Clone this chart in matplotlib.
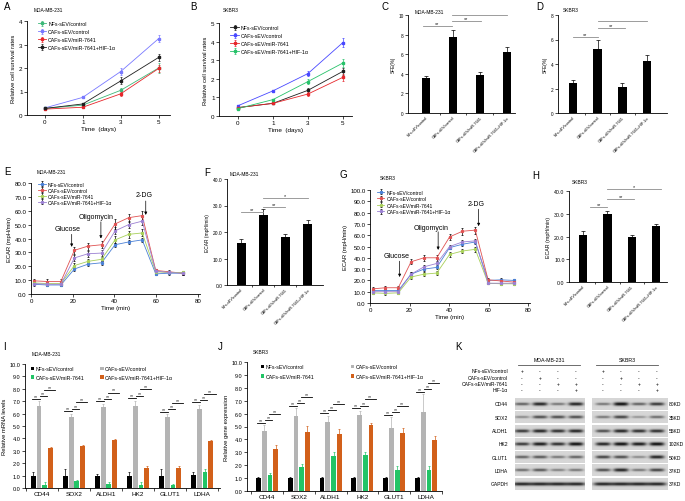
import numpy as np
import matplotlib.pyplot as plt

plt.rcParams['font.family'] = ['Liberation Sans', 'DejaVu Sans']
plt.rcParams['axes.linewidth'] = 0.6

# ---------------------- data ----------------------
groups = ['NFs-sEV/control', 'CAFs-sEV/control', 'CAFs-sEV/miR-7641', 'CAFs-sEV/miR-7641+HIF-1α']
days = ['0', '1', '3', '5']

# A: MDA-MB-231 survival (rows follow groups)
a_mean = np.array([[0.28, 0.42, 1.05, 2.00],
                   [0.30, 0.75, 1.85, 3.25],
                   [0.25, 0.33, 0.90, 1.98],
                   [0.28, 0.47, 1.45, 2.45]])
a_err = np.array([[0.03, 0.04, 0.10, 0.20],
                  [0.03, 0.04, 0.15, 0.15],
                  [0.03, 0.04, 0.08, 0.15],
                  [0.03, 0.04, 0.15, 0.15]])
# B: SKBR3 survival
b_mean = np.array([[0.45, 0.68, 1.38, 2.40],
                   [0.55, 1.35, 2.28, 3.95],
                   [0.45, 0.68, 1.18, 2.08],
                   [0.40, 0.88, 1.85, 2.85]])
b_err = np.array([[0.04, 0.05, 0.12, 0.20],
                  [0.04, 0.05, 0.15, 0.25],
                  [0.04, 0.05, 0.10, 0.20],
                  [0.04, 0.05, 0.15, 0.20]])

# C, D: sphere formation efficiency
c_mean = [3.6, 7.8, 3.9, 6.2]
c_err = [0.2, 0.7, 0.3, 0.5]
d_mean = [2.45, 5.25, 2.15, 4.25]
d_err = [0.25, 0.7, 0.3, 0.5]

# E, G: ECAR time course
ecar_t = [1.3, 7.8, 14.3, 20.8, 27.3, 33.8, 40.3, 46.8, 53.3, 59.8, 66.3, 72.8]
e_mean = np.array([[7.0, 6.5, 6.5, 18.0, 21.5, 22.5, 35.5, 37.5, 39.0, 14.5, 15.0, 15.0],
                   [9.5, 9.0, 9.0, 31.5, 34.5, 35.5, 50.5, 55.0, 56.5, 17.0, 16.0, 15.0],
                   [8.0, 7.5, 7.5, 20.5, 23.5, 25.0, 39.0, 43.0, 44.0, 16.0, 15.5, 15.5],
                   [7.5, 7.0, 7.0, 26.0, 29.0, 29.5, 45.5, 50.0, 52.5, 16.5, 15.5, 15.0]])
e_err = np.array([[1.0, 1.0, 1.0, 1.5, 1.5, 1.5, 1.5, 1.5, 1.5, 1.0, 1.0, 1.0],
                  [1.5, 1.5, 1.5, 2.5, 2.5, 2.5, 3.5, 3.0, 3.5, 1.0, 1.0, 1.0],
                  [1.0, 1.0, 1.0, 1.5, 1.5, 1.5, 2.5, 2.5, 2.5, 1.0, 1.0, 1.0],
                  [1.0, 1.0, 1.0, 2.0, 2.0, 2.0, 2.5, 2.5, 3.0, 1.0, 1.0, 1.0]])
g_mean = np.array([[11.0, 11.0, 11.0, 25.5, 30.0, 31.5, 49.0, 52.0, 54.0, 20.0, 20.5, 20.0],
                   [12.5, 13.5, 13.5, 36.5, 40.0, 40.0, 58.5, 63.5, 64.5, 20.5, 19.5, 18.5],
                   [9.0, 8.5, 9.0, 23.0, 25.5, 26.5, 43.0, 46.0, 47.5, 17.5, 17.0, 17.0],
                   [10.0, 10.0, 10.0, 25.5, 32.0, 35.0, 50.0, 54.0, 55.0, 17.5, 17.5, 17.5]])
g_err = np.array([[1.0, 1.0, 1.0, 1.5, 1.5, 1.5, 1.5, 1.5, 1.5, 1.5, 1.5, 1.5],
                  [1.5, 1.5, 1.5, 2.0, 2.5, 2.5, 3.0, 3.0, 3.0, 1.5, 1.5, 1.5],
                  [1.0, 1.0, 1.0, 1.5, 1.5, 1.5, 2.0, 2.0, 2.0, 1.0, 1.0, 1.0],
                  [1.0, 1.0, 1.0, 1.5, 1.5, 1.5, 1.5, 1.5, 1.5, 1.0, 1.0, 1.0]])

# F, H: ECAR bars
f_mean = [16.0, 26.3, 18.2, 23.0]
f_err = [1.2, 2.2, 1.0, 1.5]
h_mean = [20.5, 29.8, 20.0, 24.8]
h_err = [1.8, 1.5, 0.5, 0.8]

# I, J: qPCR (rows follow groups, columns follow genes)
genes = ['CD44', 'SOX2', 'ALDH1', 'HK2', 'GLUT1', 'LDHA']
i_mean = np.array([[1.0, 1.0, 1.0, 1.0, 1.0, 1.05],
                   [6.6, 5.7, 6.5, 6.6, 5.7, 6.4],
                   [0.25, 0.55, 0.3, 0.25, 0.25, 1.3],
                   [3.2, 3.4, 3.9, 1.6, 1.65, 3.8]])
i_err = np.array([[0.3, 0.5, 0.15, 0.3, 0.5, 0.25],
                  [0.4, 0.3, 0.3, 0.45, 0.25, 0.3],
                  [0.2, 0.1, 0.2, 0.2, 0.1, 0.2],
                  [0.1, 0.05, 0.05, 0.15, 0.1, 0.05]])
j_mean = np.array([[1.0, 1.0, 1.0, 1.0, 1.0, 1.0],
                   [4.65, 5.8, 5.35, 5.9, 4.9, 6.1],
                   [1.25, 1.85, 2.75, 2.8, 1.6, 1.6],
                   [3.25, 4.55, 4.4, 5.1, 4.5, 3.95]])
j_err = np.array([[0.08, 0.08, 0.05, 0.08, 0.05, 0.08],
                  [0.45, 0.6, 0.5, 0.3, 0.8, 1.4],
                  [0.12, 0.25, 0.3, 0.2, 0.3, 0.35],
                  [0.3, 0.5, 0.4, 0.2, 0.4, 0.3]])

# K: western blot band intensities (lanes 1-4)
blot_proteins = ['CD44', 'SOX2', 'ALDH1', 'HK2', 'GLUT1', 'LDHA', 'GAPDH']
blot_kd = ['80KD', '35KD', '55KD', '102KD', '50KD', '37KD', '37KD']
k_treat = ['NFs-sEV/control', 'CAFs-sEV/control', 'CAFs-sEV/miR-7641', 'HIF-1α']
k_signs = [['+', '-', '-', '-'],
           ['-', '+', '-', '-'],
           ['-', '-', '+', '+'],
           ['-', '-', '-', '+']]
mda_bands = np.array([[0.60, 0.90, 0.50, 0.90],
                      [0.40, 0.70, 0.70, 0.70],
                      [0.80, 0.90, 0.85, 0.90],
                      [0.80, 0.95, 0.85, 1.00],
                      [0.60, 0.65, 0.50, 0.60],
                      [0.55, 0.65, 0.45, 0.50],
                      [0.90, 0.90, 0.90, 0.90]])
skbr_bands = np.array([[0.50, 1.00, 0.60, 0.80],
                       [0.50, 0.75, 0.35, 0.55],
                       [0.70, 0.90, 0.85, 0.85],
                       [0.90, 1.00, 0.95, 1.00],
                       [0.75, 0.70, 0.40, 0.90],
                       [0.70, 0.90, 0.50, 0.75],
                       [0.90, 0.90, 0.90, 0.90]])

# ---------------------- helpers ----------------------
W, H = 685, 502
fig = plt.figure(figsize=(6.85, 5.02), dpi=100)


def px_axes(l, t, r, b):
    return fig.add_axes([l / W, 1 - b / H, (r - l) / W, (b - t) / H])


def px_text(x, y, s, **kw):
    fig.text(x / W, 1 - y / H, s, **kw)


def style(ax, fs=4):
    ax.spines['top'].set_visible(False)
    ax.spines['right'].set_visible(False)
    ax.tick_params(labelsize=fs, length=2, width=0.5, pad=1.2)


def line_panel(ax, mean, err, colors, ymax, fs):
    x = np.arange(len(days))
    for k in range(len(groups)):
        ax.errorbar(x, mean[k], yerr=err[k], fmt='-s', color=colors[k], ms=1.8,
                    lw=0.6, elinewidth=0.5, capsize=1, capthick=0.5, label=groups[k])
    ax.set_ylim(0, ymax)
    ax.set_xticks(x)
    ax.set_xticklabels(days)
    ax.set_xlabel('Time  (days)', fontsize=4.6, labelpad=1)
    ax.set_ylabel('Relative cell survival rates', fontsize=4.2, labelpad=2)
    style(ax, 4.5)


def bar_panel(ax, mean, err, xlim, ylim, yticks, fmt, ylabel, width, fs, lab_fs=2.7):
    x = np.arange(len(mean))
    ax.bar(x, mean, width=width, color='black')
    ax.errorbar(x, mean, yerr=[np.zeros(len(err)), err], fmt='none', ecolor='black',
                elinewidth=0.5, capsize=1.2, capthick=0.5)
    ax.set_xlim(*xlim)
    ax.set_ylim(*ylim)
    ax.set_yticks(yticks)
    ax.set_yticklabels([fmt % v for v in yticks])
    ax.set_xticks(x)
    ax.set_xticklabels(groups, rotation=45, ha='right', rotation_mode='anchor', fontsize=lab_fs)
    ax.set_xticks(x[:-1] + 0.5, minor=True)
    ax.set_ylabel(ylabel, fontsize=fs, labelpad=2)
    style(ax, fs)
    ax.tick_params(axis='x', which='major', length=0, labelsize=lab_fs, pad=1.5)
    ax.tick_params(axis='x', which='minor', length=1.5, width=0.5)


def bracket(ax, x0, x1, y, label, fs=4.0, color='#8c8c8c'):
    ax.plot([x0, x1], [y, y], color=color, lw=0.6, clip_on=False)
    if label:
        ax.text((x0 + x1) / 2, y, label, ha='center', va='bottom', fontsize=fs, color='#222222')


def ecar_panel(ax, mean, err, colors, ymax, fs):
    for k in range(len(groups)):
        ax.errorbar(ecar_t, mean[k], yerr=err[k], fmt='-s', color=colors[k], ms=1.3,
                    lw=0.6, ecolor='black', elinewidth=0.5, capsize=1, capthick=0.5,
                    label=groups[k])
    ax.set_xlim(0, 81)
    ax.set_ylim(0, ymax)
    ax.set_xticks([0, 20, 40, 60, 80])
    ticks = np.arange(0, ymax + 1, 10)
    ax.set_yticks(ticks)
    ax.set_yticklabels(['%.1f' % v for v in ticks])
    ax.set_xlabel('Time (min)', fontsize=4.4, labelpad=1)
    ax.set_ylabel('ECAR (mpH/min)', fontsize=4.2, labelpad=2)
    style(ax, fs)


def arrow(ax, x, y0, y1, text, tx, ty):
    ax.annotate('', xy=(x, y1), xytext=(x, y0),
                arrowprops=dict(arrowstyle='-|>', lw=0.5, color='black', mutation_scale=4,
                                shrinkA=0, shrinkB=0))
    ax.text(tx, ty, text, ha='center', va='center', fontsize=5)


qpcr_colors = ['black', '#b4b4b4', '#22c466', '#d2601a']


def qpcr_panel(ax, mean, err, ylabel, xlim):
    x = np.arange(len(genes))
    offs = np.array([-1.5, -0.5, 0.5, 1.5]) * 0.18
    handles = []
    for k in range(len(groups)):
        bc = ax.bar(x + offs[k], mean[k], width=0.15, color=qpcr_colors[k], label=groups[k])
        handles.append(bc)
        ax.errorbar(x + offs[k], mean[k], yerr=[np.zeros(len(genes)), err[k]], fmt='none',
                    ecolor=qpcr_colors[k], elinewidth=0.5, capsize=1, capthick=0.5)
    for g in range(len(genes)):
        top = mean[1, g] + err[1, g]
        xb, xg, xn, xo = x[g] + offs
        bracket(ax, xb - 0.05, xg + 0.02, top + 0.2, '**', 3.8, 'black')
        bracket(ax, xg + 0.02, xn + 0.07, top + 0.4, '**', 3.8, 'black')
        bracket(ax, xn - 0.02, xo + 0.15, top + 0.9, '**', 3.8, 'black')
    ax.set_xlim(*xlim)
    ax.set_ylim(0, 10)
    ax.set_yticks(np.arange(0, 11))
    ax.set_yticklabels(['%.1f' % v for v in np.arange(0, 11)])
    ax.set_xticks(x)
    ax.set_xticklabels(genes, fontsize=4.6)
    ax.set_xticks(np.arange(len(genes) + 1) - 0.5, minor=True)
    ax.set_ylabel(ylabel, fontsize=4.2, labelpad=2)
    style(ax, 4)
    ax.tick_params(axis='x', which='major', length=0, labelsize=4.6, pad=2)
    ax.tick_params(axis='x', which='minor', length=2, width=0.5)
    # legend reads row-wise: NFs | CAFs control, then miR | miR+HIF
    order = [0, 2, 1, 3]
    return [handles[i] for i in order], [groups[i] for i in order]


# ---------------------- A ----------------------
axA = px_axes(27, 22, 170, 116)
line_panel(axA, a_mean, a_err, ['#3cb878', '#7878ff', '#e6262b', '#1e1e1e'], 4, 4.5)
axA.set_xlim(-0.47, 3.3)
axA.legend(loc='upper left', bbox_to_anchor=(0.06, 1.02), frameon=False, fontsize=3.8,
           handlelength=1.6, handletextpad=0.4, labelspacing=0.55, borderaxespad=0)

# ---------------------- B ----------------------
axB = px_axes(219, 24, 352, 117)
b_colors = ['#1e1e1e', '#4848ff', '#e6262b', '#27c26a']
line_panel(axB, b_mean, b_err, b_colors, 5, 4.5)
axB.set_xlim(-0.54, 3.26)
axB.legend(loc='upper left', bbox_to_anchor=(0.07, 1.0), frameon=False, fontsize=3.8,
           handlelength=1.6, handletextpad=0.4, labelspacing=0.55, borderaxespad=0)

# ---------------------- C ----------------------
axC = px_axes(408, 16, 515, 114)
bar_panel(axC, c_mean, c_err, (-0.67, 3.3), (0, 10), [0, 2, 4, 6, 8, 10], '%d', 'SFE(%)', 0.32, 3.4)
bracket(axC, -0.1, 0.95, 8.9, '**')
bracket(axC, 0.95, 2.05, 9.4, '**')
bracket(axC, 0.95, 3.0, 10.0, '')

# ---------------------- D ----------------------
axD = px_axes(558, 16, 667, 114)
bar_panel(axD, d_mean, d_err, (-0.6, 3.8), (0, 8), [0, 2, 4, 6, 8], '%d', 'SFE(%)', 0.34, 3.4)
bracket(axD, 0.0, 1.0, 6.2, '**')
bracket(axD, 1.0, 2.1, 6.9, '**')
bracket(axD, 1.0, 3.0, 7.5, '')

# ---------------------- E ----------------------
axE = px_axes(31, 184, 200, 295)
e_colors = ['#4a80d6', '#e05252', '#a8d05a', '#9b80d2']
ecar_panel(axE, e_mean, e_err, e_colors, 80, 4.4)
axE.legend(loc='upper left', bbox_to_anchor=(0.03, 1.03), frameon=False, fontsize=3.6,
           handlelength=1.5, handletextpad=0.4, labelspacing=0.2, borderaxespad=0)
arrow(axE, 19.5, 43, 34, 'Glucose', 17.5, 47.5)
arrow(axE, 33.5, 52, 40, 'Oligomycin', 31, 56)
arrow(axE, 55, 67, 57, '2-DG', 54, 71.5)

# ---------------------- F ----------------------
axF = px_axes(227, 180, 323, 286)
bar_panel(axF, f_mean, f_err, (-0.64, 3.7), (0, 40), [0, 10, 20, 30, 40], '%.1f',
          'ECAR (mpH/min)', 0.4, 3.5)
bracket(axF, 0.0, 1.0, 27.5, '**')
bracket(axF, 1.0, 2.0, 29.4, '**')
bracket(axF, 1.0, 3.0, 33.0, '*')

# ---------------------- G ----------------------
axG = px_axes(370, 191, 530, 304)
ecar_panel(axG, g_mean, g_err, e_colors, 100, 4.4)
axG.legend(loc='upper left', bbox_to_anchor=(0.03, 1.02), frameon=False, fontsize=3.6,
           handlelength=1.5, handletextpad=0.4, labelspacing=0.3, borderaxespad=0)
arrow(axG, 15, 37, 23, 'Glucose', 13.5, 42)
arrow(axG, 34.5, 63, 47, 'Oligomycin', 31, 67)
arrow(axG, 55, 83, 68, '2-DG', 53.5, 88)

# ---------------------- H ----------------------
axH = px_axes(569, 192, 667, 283)
bar_panel(axH, h_mean, h_err, (-0.58, 3.45), (0, 40), [0, 10, 20, 30, 40], '%.1f',
          'ECAR (mpH/min)', 0.34, 3.8)
bracket(axH, 0.3, 1.0, 33.0, '**')
bracket(axH, 1.0, 2.1, 36.5, '**')
bracket(axH, 1.0, 3.2, 41.0, '*')

# ---------------------- I ----------------------
axI = px_axes(25, 365, 220, 489)
hI, lI = qpcr_panel(axI, i_mean, i_err, 'Relative mRNA levels', (-0.53, 5.56))
axI.legend(hI, lI, loc='upper left', bbox_to_anchor=(0.02, 1.0), ncol=2, frameon=False,
           fontsize=3.8, handlelength=0.6, handleheight=0.6, handletextpad=0.3,
           columnspacing=3.0, labelspacing=0.7, borderaxespad=0)

# ---------------------- J ----------------------
axJ = px_axes(247, 363, 442, 492)
hJ, lJ = qpcr_panel(axJ, j_mean, j_err, 'Relative gene expression', (-0.63, 5.47))
axJ.legend(hJ, lJ, loc='upper left', bbox_to_anchor=(0.06, 1.0), ncol=2, frameon=False,
           fontsize=3.8, handlelength=0.6, handleheight=0.6, handletextpad=0.3,
           columnspacing=7.0, labelspacing=0.9, borderaxespad=0)

# ---------------------- K ----------------------
axK = px_axes(440, 338, 685, 502)
axK.axis('off')

mda_lanes = [522, 540, 558, 576]
skbr_lanes = [603, 621, 639, 657]
row_y = [405 + 13.3 * i for i in range(len(blot_proteins))]


def blot(bands, lanes, x0, x1):
    for r, yc in enumerate(row_y):
        y0, y1 = yc - 6, yc + 6
        xs = np.linspace(x0, x1, 240)
        ys = np.linspace(y0, y1, 40)
        X, Y = np.meshgrid(xs, ys)
        img = np.full(X.shape, 0.84)
        for c, lx in enumerate(lanes):
            inten = bands[r, c]
            sx = 7.5 if blot_proteins[r] != 'GAPDH' else 9.5
            shape = np.exp(-((X - lx) / sx) ** 4) * np.exp(-((Y - yc) / (0.8 + 1.0 * inten)) ** 2)
            img -= 0.8 * inten * shape
        axK.imshow(img, extent=(x0, x1, y1, y0), cmap='gray', vmin=0, vmax=1,
                   aspect='auto', interpolation='bilinear', zorder=1)


blot(mda_bands, mda_lanes, 515, 585)
blot(skbr_bands, skbr_lanes, 592, 668)
axK.set_xlim(440, 685)
axK.set_ylim(502, 338)

for r, yc in enumerate(row_y):
    axK.text(508, yc, blot_proteins[r], ha='right', va='center', fontsize=3.6)
    axK.text(669, yc, blot_kd[r], ha='left', va='center', fontsize=3.6)

for i, lab in enumerate(k_treat):
    yy = 372 + 6.3 * i
    axK.text(508, yy, lab, ha='right', va='center', fontsize=3.6)
    for c in range(4):
        axK.text(mda_lanes[c], yy, k_signs[i][c], ha='center', va='center', fontsize=3.6)
        axK.text(skbr_lanes[c], yy, k_signs[i][c], ha='center', va='center', fontsize=3.6)

axK.text(549, 361, 'MDA-MB-231', ha='center', va='center', fontsize=3.8)
axK.plot([518, 580], [366, 366], color='#555555', lw=0.6)
axK.text(627, 361, 'SKBR3', ha='center', va='center', fontsize=3.8)
axK.plot([596, 658], [366, 366], color='#555555', lw=0.6)

# ---------------------- panel letters and subtitles ----------------------
for letter, x, y in [('A', 4, 7), ('B', 190, 7), ('C', 381, 7), ('D', 536, 7),
                     ('E', 4, 172), ('F', 204, 173), ('G', 340, 175), ('H', 532, 176),
                     ('I', 3, 347), ('J', 218, 347), ('K', 455, 347)]:
    px_text(x, y, letter, fontsize=7, ha='left', va='center')

for s, x, y in [('MDA-MB-231', 34, 11), ('SKBR3', 223, 11), ('MDA-MB-231', 415, 12),
                ('SKBR3', 563, 11), ('MDA-MB-231', 37, 173), ('MDA-MB-231', 230, 175),
                ('SKBR3', 380, 179), ('SKBR3', 572, 182), ('MDA-MB-231', 32, 355),
                ('SKBR3', 253, 353)]:
    px_text(x, y, s, fontsize=3.5, ha='left', va='center')

fig.savefig('out.png', dpi=100)
